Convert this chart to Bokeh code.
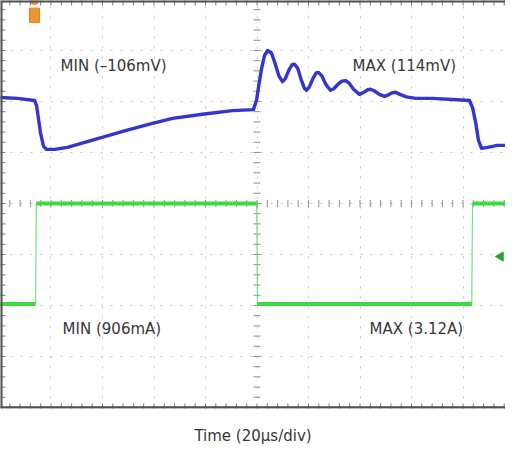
import numpy as np
from bokeh.plotting import figure
from bokeh.models import Range1d, FixedTicker, Span
from bokeh.core.properties import value
from bokeh.embed import file_html
from bokeh.resources import INLINE

# ---- data (time in µs, 20 µs/div; amplitudes in screen divisions) ----
t_blue = [0, 7.0, 13.6, 14.4, 15.9, 17.1, 18.3, 21.4, 26.4, 36.1, 48.9, 59.4, 67.2, 78.8, 90.5,
          98.6, 99.8, 100.8, 101.8, 102.9, 104.1, 105.6, 107.0, 108.5, 109.9, 111.0, 112.4,
          113.6, 114.6, 115.8, 117.2, 118.4, 119.2, 120.3, 121.8, 123.0, 123.9, 125.2, 126.8,
          128.5, 129.8, 131.5, 133.0, 134.4, 135.8, 137.5, 139.8, 141.5, 143.0, 144.1, 145.5,
          147.5, 149.5, 151.0, 152.5, 153.8, 155.5, 158.0, 161.6, 168.2, 175.9, 182.5, 183.7,
          184.9, 186.0, 187.2, 189.5, 193.4, 199.6]
v_blue = [2.08, 2.06, 2.02, 1.92, 1.39, 1.12, 1.06, 1.06, 1.10, 1.24, 1.43, 1.57, 1.67, 1.75, 1.82,
          1.84, 2.02, 2.35, 2.65, 2.90, 3.00, 2.95, 2.75, 2.50, 2.39, 2.45, 2.62,
          2.72, 2.73, 2.65, 2.42, 2.26, 2.22, 2.28, 2.46, 2.56, 2.57, 2.50, 2.33,
          2.22, 2.25, 2.34, 2.40, 2.41, 2.36, 2.24, 2.14, 2.18, 2.23, 2.24, 2.21,
          2.14, 2.10, 2.13, 2.17, 2.18, 2.14, 2.09, 2.06, 2.06, 2.04, 2.02, 1.88,
          1.59, 1.24, 1.08, 1.10, 1.14, 1.14]

t_green = [0, 14.0, 14.3, 99.9, 100.2, 183.4, 183.7, 200]
i_green = [-1.97, -1.97, 0.0, 0.0, -1.97, -1.97, 0.0, 0.0]

label_text = ["MIN (\u2013106mV)", "MAX (114mV)", "MIN (906mA)", "MAX (3.12A)"]
label_t = [23.7, 137.1, 24.5, 143.7]
label_v = [2.69, 2.69, -2.47, -2.47]

axis_title = "Time (20\u00b5s/div)"

trigger_time = 13.6
trigger_level = -1.04

div_t = [20, 40, 60, 80, 100, 120, 140, 160, 180]
div_v = [-3, -2, -1, 0, 1, 2, 3]

x0, x1 = 0.39, 196.5
y0, y1 = -4.02, 3.98

p = figure(frame_width=505, frame_height=408, output_backend="svg", toolbar_location=None,
           x_range=Range1d(x0, x1), y_range=Range1d(y0, y1),
           min_border_left=0, min_border_right=0, min_border_top=0, min_border_bottom=0)
p.outline_line_color = None
p.background_fill_color = "white"
p.border_fill_color = "white"
p.yaxis.visible = False

# graticule
p.xgrid.ticker = FixedTicker(ticks=div_t)
p.ygrid.ticker = FixedTicker(ticks=div_v)
for g in (p.xgrid, p.ygrid):
    g.grid_line_color = "#c4c4c4"
    g.grid_line_dash = "2 8"
    g.grid_line_width = 1

minor_v = np.arange(-4.0, 4.01, 0.2)
minor_t = np.arange(0.0, 200.01, 4.0)
p.scatter(x=[100.0] * len(minor_v), y=minor_v, marker="dash", size=7, line_color="#8e8e8e", line_width=1)
p.scatter(x=minor_t, y=[0.0] * len(minor_t), marker="dash", angle=np.pi / 2, size=7,
          line_color="#8e8e8e", line_width=1)
p.scatter(x=[x0] * len(minor_v), y=minor_v, marker="dash", size=10, line_color="#777777", line_width=1)
p.scatter(x=minor_t, y=[y1] * len(minor_t), marker="dash", angle=np.pi / 2, size=10,
          line_color="#777777", line_width=1)
p.scatter(x=minor_t, y=[-4.0] * len(minor_t), marker="dash", angle=np.pi / 2, size=8,
          line_color="#777777", line_width=1)

p.add_layout(Span(location=x0, dimension="height", line_color="#505050", line_width=4))
p.add_layout(Span(location=y1, dimension="width", line_color="#505050", line_width=4))
p.add_layout(Span(location=-4.0, dimension="width", line_color="#505050", line_width=2.5))

# green current trace: thin edges, thick levels
p.line(t_green, i_green, line_color="#4ee04e", line_width=1.2, line_alpha=0.8)
seg_x, seg_y = [], []
for k in range(len(t_green) - 1):
    if i_green[k] == i_green[k + 1]:
        seg_x.append([t_green[k], t_green[k + 1]])
        seg_y.append([i_green[k], i_green[k + 1]])
p.multi_line(seg_x, seg_y, line_color="#3cdc3c", line_width=4)

# blue voltage trace
p.line(t_blue, v_blue, line_color="#3434cf", line_width=3.4, line_join="round")

# markers
p.rect(x=[trigger_time], y=[3.69], width=3.9, height=0.28, fill_color="#ee9433", line_color="#e08020")
p.scatter(x=[trigger_time], y=[y1], marker="circle", size=8, fill_color="#ee9433", line_color="#e08020")
p.scatter(x=[194.6], y=[trigger_level], marker="triangle", angle=np.pi / 2, size=9,
          fill_color="#2fa02f", line_color="#2fa02f")

# texts
p.text(x=label_t, y=label_v, text=label_text, text_font=value("DejaVu Sans"),
       text_font_size="15px", text_color="#383838", text_align="left", text_baseline="middle")

# x axis carrying only the title
ax = p.xaxis[0]
ax.ticker = FixedTicker(ticks=[])
ax.axis_line_color = None
ax.major_tick_in = 0
ax.major_tick_out = 0
ax.minor_tick_in = 0
ax.minor_tick_out = 0
ax.major_label_text_font_size = "0px"
ax.major_label_standoff = 0
ax.axis_label = axis_title
ax.axis_label_text_font = "DejaVu Sans"
ax.axis_label_text_font_size = "15px"
ax.axis_label_text_font_style = "normal"
ax.axis_label_text_color = "#383838"
ax.axis_label_standoff = 18

open("out.html", "w").write(file_html(p, INLINE))
